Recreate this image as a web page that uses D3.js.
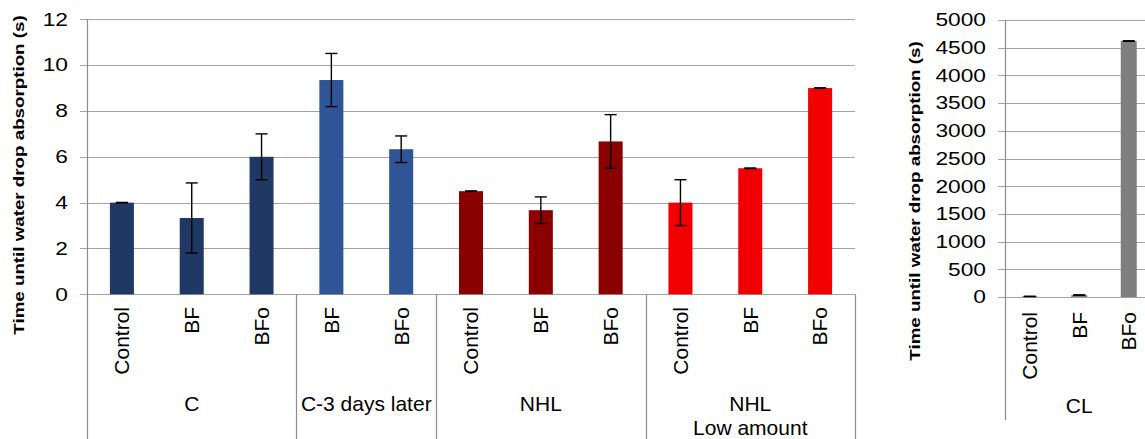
<!DOCTYPE html>
<html>
<head>
<meta charset="utf-8">
<script src="https://cdn.jsdelivr.net/npm/d3@7"></script>
<style>
  html, body { margin: 0; padding: 0; background: #fff; }
  svg { display: block; font-family: "Liberation Sans", Arial, sans-serif; }
</style>
</head>
<body>
<svg id="chart" width="1145" height="439"></svg>
<script>
// Water drop absorption test: mean time (s) with standard deviation.
const categories = ["Control", "BF", "BFo", "BF", "BFo", "Control", "BF", "BFo", "Control", "BF", "BFo"];
const categoryGroup = [0, 0, 0, 1, 1, 2, 2, 2, 3, 3, 3];
const groupNames = [["C"], ["C-3 days later"], ["NHL"], ["NHL", "Low amount"]];
const groupColors = ["#203864", "#2F5597", "#8B0000", "#F20000"];
const meanTimes = [4.0, 3.33, 6.0, 9.35, 6.33, 4.5, 3.67, 6.67, 4.0, 5.5, 9.0];
const stdDevs = [0.01, 1.53, 1.0, 1.16, 0.58, 0.01, 0.58, 1.17, 1.0, 0.01, 0.01];
const yTicks = [0, 2, 4, 6, 8, 10, 12];

// Lime (CL) series drawn on its own scale.
const clCategories = ["Control", "BF", "BFo"];
const clGroup = "CL";
const clColor = "#7F7F7F";
const clMeans = [10, 35, 4620];
const clStdDevs = [3, 4, 5];
const clTicks = [0, 500, 1000, 1500, 2000, 2500, 3000, 3500, 4000, 4500, 5000];

const axisTitle = "Time until water drop absorption (s)";

const svg = d3.select("#chart");
const GRID = "#a3a3a3", AXIS = "#8c8c8c", INK = "#000";
const tickFont = 17.5, tickStretch = 1.3;
const catFont = 21;

function drawPanel(cfg) {
  const g = svg.append("g");
  const y = d3.scaleLinear().domain(cfg.domain).range([cfg.yBase, cfg.yTop]);
  const x = d3.scaleBand().domain(d3.range(cfg.cats.length))
    .range([cfg.x0, cfg.x1]).paddingInner(cfg.pad).paddingOuter(cfg.pad / 2);

  // gridlines and ticks
  g.selectAll(".grid").data(cfg.ticks).join("line")
    .attr("x1", cfg.x0 - 7).attr("x2", cfg.gridEnd)
    .attr("y1", d => Math.round(y(d)) + 0.5).attr("y2", d => Math.round(y(d)) + 0.5)
    .attr("stroke", GRID).attr("stroke-width", 1.2);

  // tick labels (the font used is set wide)
  g.selectAll(".tl").data(cfg.ticks).join("text")
    .attr("transform", d => `translate(${cfg.labelRight},${y(d) + 6.3}) scale(${tickStretch},1)`)
    .attr("text-anchor", "end").attr("font-size", tickFont).attr("fill", INK)
    .text(d => d);

  // vertical axis line running down through the label area
  g.append("line").attr("x1", cfg.x0 + 0.5).attr("x2", cfg.x0 + 0.5)
    .attr("y1", y(cfg.domain[1])).attr("y2", cfg.axisBottom)
    .attr("stroke", AXIS).attr("stroke-width", 1.2);

  // bars
  g.selectAll(".bar").data(cfg.means).join("rect")
    .attr("x", (d, i) => x(i)).attr("width", x.bandwidth())
    .attr("y", d => y(d)).attr("height", d => y(0) - y(d))
    .attr("fill", (d, i) => cfg.color(i));

  // error bars
  const cap = 6;
  const eb = g.selectAll(".eb").data(cfg.means).join("g")
    .attr("stroke", "#000").attr("stroke-width", 1.4);
  eb.append("line")
    .attr("x1", (d, i) => x(i) + x.bandwidth() / 2).attr("x2", (d, i) => x(i) + x.bandwidth() / 2)
    .attr("y1", (d, i) => y(d + cfg.errs[i])).attr("y2", (d, i) => y(d - cfg.errs[i]));
  eb.append("line")
    .attr("x1", (d, i) => x(i) + x.bandwidth() / 2 - cap).attr("x2", (d, i) => x(i) + x.bandwidth() / 2 + cap)
    .attr("y1", (d, i) => y(d + cfg.errs[i])).attr("y2", (d, i) => y(d + cfg.errs[i]));
  eb.append("line")
    .attr("x1", (d, i) => x(i) + x.bandwidth() / 2 - cap).attr("x2", (d, i) => x(i) + x.bandwidth() / 2 + cap)
    .attr("y1", (d, i) => y(d - cfg.errs[i])).attr("y2", (d, i) => y(d - cfg.errs[i]));

  // rotated category labels
  g.selectAll(".cat").data(cfg.cats).join("text")
    .attr("transform", (d, i) => `translate(${x(i) + x.bandwidth() / 2},${cfg.catTop}) rotate(-90)`)
    .attr("dy", "0.35em").attr("text-anchor", "end")
    .attr("font-size", catFont).attr("fill", INK)
    .text(d => d);

  // axis title
  g.append("text")
    .attr("transform", `translate(${cfg.titleX},${cfg.titleY}) rotate(-90) scale(1.25,1)`)
    .attr("text-anchor", "middle").attr("font-size", 15).attr("font-weight", "bold")
    .attr("fill", INK).text(axisTitle);

  return { g, x, y };
}

// Left panel: C, C-3 days later, NHL, NHL low amount
const left = drawPanel({
  domain: [0, 12], ticks: yTicks, yBase: 294.3, yTop: 19.3,
  x0: 87, x1: 855, gridEnd: 855, pad: 0.656,
  cats: categories, means: meanTimes, errs: stdDevs,
  color: i => groupColors[categoryGroup[i]],
  labelRight: 68, axisBottom: 439, catTop: 307,
  titleX: 24, titleY: 175
});

// group separators and group labels
const groupIdx = d3.range(groupNames.length);
const spans = groupIdx.map(gi => {
  const idx = categoryGroup.map((c, i) => c === gi ? i : -1).filter(i => i >= 0);
  const step = left.x.step();
  const start = left.x(idx[0]) - left.x.paddingOuter() * step;
  const end = left.x(idx[idx.length - 1]) + left.x.bandwidth() + left.x.paddingOuter() * step;
  return { gi, start, end };
});
left.g.selectAll(".sep").data(spans).join("line")
  .attr("x1", d => Math.round(d.end) + 0.5).attr("x2", d => Math.round(d.end) + 0.5)
  .attr("y1", left.y(0)).attr("y2", 439)
  .attr("stroke", AXIS).attr("stroke-width", 1.2);
const gl = left.g.selectAll(".grp").data(spans).join("text")
  .attr("text-anchor", "middle").attr("font-size", catFont).attr("fill", INK);
gl.selectAll("tspan").data(d => groupNames[d.gi].map((t, k) => ({ t, k, cx: (d.start + d.end) / 2 })))
  .join("tspan")
  .attr("x", d => d.cx).attr("y", d => 410.5 + d.k * 24.5)
  .text(d => d.t);

// Right panel: CL
const step = 49.5;
const right = drawPanel({
  domain: [0, 5000], ticks: clTicks, yBase: 297, yTop: 20,
  x0: 1005, x1: 1005 + step * clCategories.length, gridEnd: 1160, pad: 0.677,
  cats: clCategories, means: clMeans, errs: clStdDevs,
  color: () => clColor,
  labelRight: 986, axisBottom: 420, catTop: 312,
  titleX: 920, titleY: 201
});
right.g.append("text")
  .attr("x", (right.x.range()[0] + right.x.range()[1]) / 2).attr("y", 413)
  .attr("text-anchor", "middle").attr("font-size", catFont).attr("fill", INK)
  .text(clGroup);
</script>
</body>
</html>
